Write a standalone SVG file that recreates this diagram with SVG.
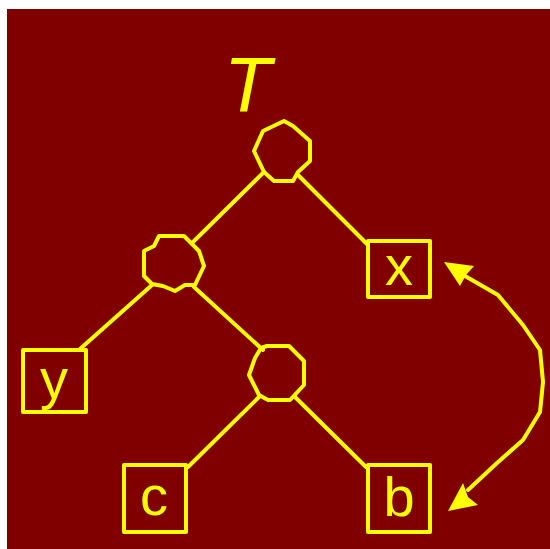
<svg xmlns="http://www.w3.org/2000/svg" width="550" height="549" viewBox="0 0 550 549">
<style>
.ln{stroke:#ffff00;stroke-width:4;fill:none;stroke-linejoin:round;stroke-linecap:round}
.nd{stroke:#ffff00;stroke-width:4;fill:none;stroke-linejoin:round}
.lb{fill:#ffff00;font-family:"Liberation Sans",Arial,sans-serif;font-size:56px;text-anchor:middle}
.ah{fill:#ffff00;stroke:none}
</style>
<rect x="0" y="0" width="550" height="549" fill="#ffffff"/>
<rect x="7" y="9" width="543" height="540" fill="#800000"/>
<text x="224" y="112" style="fill:#ffff00;font-family:'Liberation Sans',Arial,sans-serif;font-size:77px;font-style:italic">T</text>
<g id="connectors">
<line class="ln" x1="264" y1="172" x2="193" y2="242"/>
<line class="ln" x1="298" y1="175" x2="368" y2="245"/>
<line class="ln" x1="194" y1="287" x2="263" y2="350"/>
<line class="ln" x1="152" y1="285" x2="80" y2="349"/>
<line class="ln" x1="260" y1="396" x2="188" y2="467"/>
<line class="ln" x1="295" y1="397" x2="366" y2="467"/>
<polyline class="ln" points="465,276 498,295 523,325 540,350 543,382 540,412 523,440 497,463 468,490"/>
<polygon class="ah" points="444,262 474,266 466,275 460,286"/>
<polygon class="ah" points="448,511 463,483 468,497 478,505"/>
</g>
<g id="root"><polygon class="nd" points="284,121 293,126 310,141 310,161 298,172 293,181 274,181 264,172 254,151 263,131"/></g>
<g id="left"><polygon class="nd" points="159,236 184,236 199,251 204,266 195,285 185,285 175,291 163,286 152,284 144,276 144,251 154,246"/></g>
<g id="mid"><polygon class="nd" points="267,346 289,346 304,361 304,385 290,400 268,400 259,395 249,375 255,358 261,348"/></g>
<g id="x"><rect class="nd" x="368" y="241" width="62" height="56"/><text class="lb" x="399" y="285">x</text></g>
<g id="y"><rect class="nd" x="23" y="350" width="63" height="62"/><text class="lb" x="54" y="398">y</text></g>
<g id="c"><rect class="nd" x="124" y="465" width="62" height="67"/><text class="lb" x="154" y="515">c</text></g>
<g id="b"><rect class="nd" x="368" y="465" width="62" height="67"/><text class="lb" x="399" y="516">b</text></g>
</svg>
